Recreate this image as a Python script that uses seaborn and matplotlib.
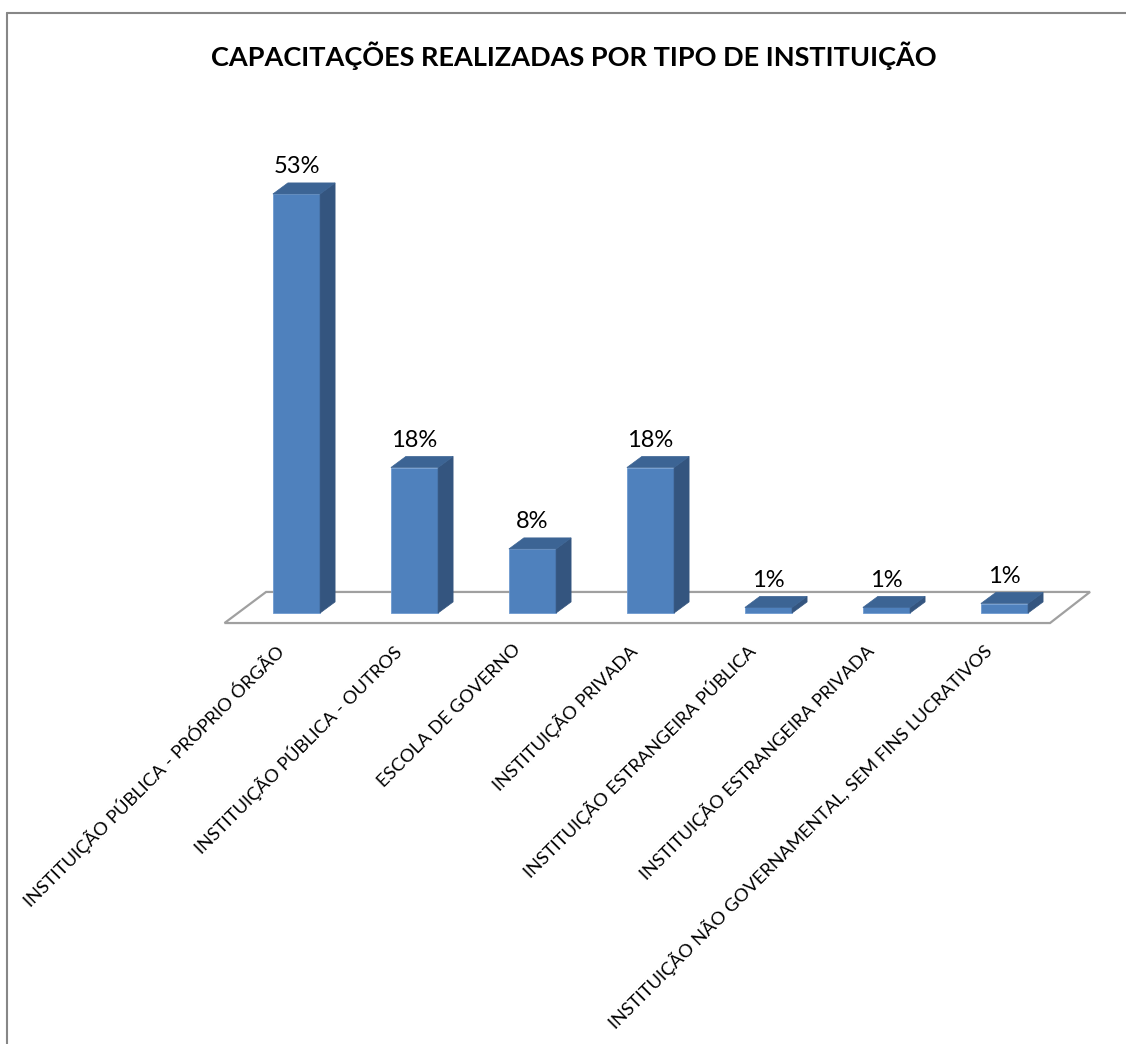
import matplotlib
matplotlib.use("Agg")
import matplotlib.pyplot as plt
import matplotlib.transforms as mtransforms
from matplotlib.patches import Polygon
from matplotlib.lines import Line2D
import seaborn as sns
import pandas as pd

categorias = [
    "INSTITUIÇÃO PÚBLICA - PRÓPRIO ÓRGÃO",
    "INSTITUIÇÃO PÚBLICA - OUTROS",
    "ESCOLA DE GOVERNO",
    "INSTITUIÇÃO PRIVADA",
    "INSTITUIÇÃO ESTRANGEIRA PÚBLICA",
    "INSTITUIÇÃO ESTRANGEIRA PRIVADA",
    "INSTITUIÇÃO NÃO GOVERNAMENTAL, SEM FINS LUCRATIVOS",
]
percentuais = [53.0, 18.4, 8.1, 18.4, 0.7, 0.7, 1.2]
titulo = "CAPACITAÇÕES REALIZADAS POR TIPO DE INSTITUIÇÃO"

df = pd.DataFrame({"tipo": categorias, "pct": percentuais})

sns.set_style("white")
plt.rcParams["font.family"] = ["Lato", "DejaVu Sans"]
plt.rcParams["text.color"] = "black"
plt.rcParams["xtick.color"] = "black"

W, H = 1126, 1044
fig = plt.figure(figsize=(W / 100, H / 100), dpi=100)
ax = fig.add_axes([0.1994, 0.403, 0.787, 0.4536])

frente = "#4F81BD"
lado = "#34557F"
topo = "#3C6494"

sns.barplot(data=df, x="tipo", y="pct", color=frente, width=0.4,
            saturation=1, ax=ax, zorder=3)

ax.set_xlim(-0.61, 6.9)
ax.set_ylim(-1.3, 58.6)

# piso em perspectiva
piso = Polygon([(-0.61, -1.27), (6.386, -1.27), (6.725, 2.66), (-0.258, 2.66)],
               closed=True, facecolor="white", edgecolor="#a0a0a0", lw=1.6,
               zorder=1, clip_on=False)
ax.add_patch(piso)

# faces laterais e superiores para o efeito 3D
dx, dy = 0.127, 1.4
for p in ax.patches[:]:
    if p is piso:
        continue
    x0 = p.get_x()
    w = p.get_width()
    h = p.get_height()
    x1 = x0 + w
    p.set_edgecolor("#6f9ad0")
    p.set_linewidth(0.6)
    ax.add_patch(Polygon([(x1, 0), (x1 + dx, dy), (x1 + dx, h + dy), (x1, h)],
                         closed=True, facecolor=lado, edgecolor=lado, lw=0.5,
                         zorder=3, clip_on=False))
    ax.add_patch(Polygon([(x0, h), (x0 + dx, h + dy), (x1 + dx, h + dy), (x1, h)],
                         closed=True, facecolor=topo, edgecolor=topo, lw=0.5,
                         zorder=3, clip_on=False))

ax.bar_label(ax.containers[0], labels=[f"{round(v)}%" for v in percentuais],
             padding=12, fontsize=17, color="black")

ax.set_xlabel("")
ax.set_ylabel("")
ax.set_yticks([])
ax.tick_params(axis="x", length=0, pad=13)
ax.set_xticks(range(len(categorias)))
ax.set_xticklabels(categorias, rotation=45, ha="right", fontsize=13.2,
                   color="black")
desloc = mtransforms.ScaledTranslation(-9 / 100, 0, fig.dpi_scale_trans)
for lbl in ax.get_xticklabels():
    lbl.set_transform(lbl.get_transform() + desloc)

sns.despine(ax=ax, left=True, bottom=True)

fig.text(574 / W, 1 - 56 / H, titulo, ha="center", va="center",
         fontsize=19.5, fontweight="bold", color="black")

# moldura (apenas topo e esquerda visíveis)
fig.add_artist(Line2D([7 / W, 1], [1 - 13 / H, 1 - 13 / H], color="#878787", lw=1.5))
fig.add_artist(Line2D([7 / W, 7 / W], [0, 1 - 13 / H], color="#878787", lw=1.5))

fig.savefig("out.png", dpi=100, facecolor="white")
